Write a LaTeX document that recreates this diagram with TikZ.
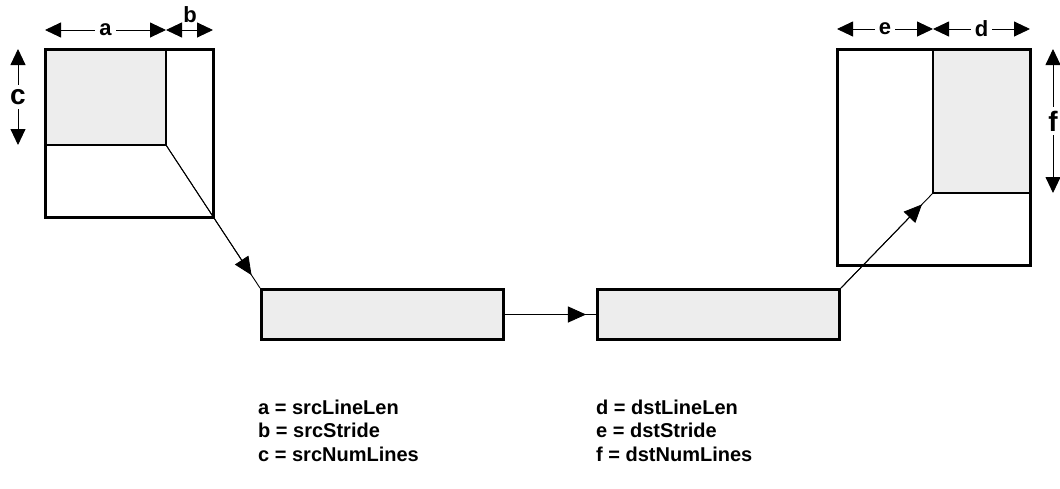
\documentclass[tikz,border=0pt]{standalone}
\usepackage{fontspec}
\setmainfont{Liberation Sans}
\usetikzlibrary{arrows.meta,calc}
\definecolor{boxgrey}{HTML}{EDEDED}
\tikzset{
  outer/.style={draw=black,line width=3pt},
  inner/.style={draw=black,line width=1.8pt},
  grey/.style={fill=boxgrey},
  conn/.style={draw=black,line width=0.9pt},
  tip/.style={-{Triangle[length=18pt,width=16pt]}},
  dim/.style={line width=0.9pt,{Triangle[length=16pt,width=15pt]}-{Triangle[length=16pt,width=15pt]}},
  dimlbl/.style={fill=white,inner sep=4pt,font=\bfseries\fontsize{22}{24}\selectfont},
  sidelbl/.style={fill=white,inner sep=4pt,font=\bfseries\fontsize{28}{30}\selectfont},
  legend/.style={anchor=base west,inner sep=0pt,font=\bfseries\fontsize{20}{22}\selectfont},
}
\begin{document}
\begin{tikzpicture}[x=1pt,y=-1pt]
\useasboundingbox (0,0) rectangle (1060,488);
% left source frame
\fill[boxgrey] (45,49) rectangle (166,145);
\draw[inner] (166,49) -- (166,145) coordinate (srcc) -- (45,145);
\draw[outer] (45,49) rectangle (213,217);
% right destination frame
\fill[boxgrey] (933,49) rectangle (1030,193);
\draw[inner] (933,49) -- (933,193) coordinate (dstc) -- (1030,193);
\draw[outer] (837,49) rectangle (1030,265);
% middle line buffers
\node[outer,grey,minimum width=242pt,minimum height=50pt,inner sep=0pt,anchor=north west] (buf1) at (260,288) {};
\node[outer,grey,minimum width=242pt,minimum height=50pt,inner sep=0pt,anchor=north west] (buf2) at (596,288) {};
% connectors
\draw[conn] (srcc) -- (buf1.north west);
\draw[conn,tip] (srcc) -- ($(srcc)!0.91!(buf1.north west)$);
\draw[conn] (buf1.east) -- (buf2.west);
\draw[conn,tip] (buf1.east) -- ($(buf1.east)!0.89!(buf2.west)$);
\draw[conn] (buf2.north east) -- (dstc);
\draw[conn,tip] (buf2.north east) -- ($(buf2.north east)!0.88!(dstc)$);
% dimension arrows
\coordinate (a0) at (45,30); \coordinate (a1) at (166,30); \coordinate (b1) at (213,30);
\draw[dim] (a0) -- node[dimlbl] (la) {a} (a1);
\draw[dim] (a1) -- (b1);
\node[dimlbl,fill=none] (lb) at (190,15) {b};
\coordinate (c0) at (18,49); \coordinate (c1) at (18,145);
\draw[dim] (c0) -- node[sidelbl] (lc) {c} (c1);
\coordinate (e0) at (837,29); \coordinate (e1) at (933,29); \coordinate (d1) at (1030,29);
\draw[dim] (e0) -- node[dimlbl] (le) {e} (e1);
\draw[dim] (e1) -- node[dimlbl] (ld) {d} (d1);
\coordinate (f0) at (1053,49); \coordinate (f1) at (1053,193);
\draw[dim] (f0) -- node[sidelbl] (lf) {f} (f1);
% legend
\node[legend] (l1) at (258,414) {a = srcLineLen};
\node[legend] (l2) at (258,437.5) {b = srcStride};
\node[legend] (l3) at (258,461) {c = srcNumLines};
\node[legend] (l4) at (596,414) {d = dstLineLen};
\node[legend] (l5) at (596,437.5) {e = dstStride};
\node[legend] (l6) at (596,461) {f = dstNumLines};
\end{tikzpicture}
\end{document}
